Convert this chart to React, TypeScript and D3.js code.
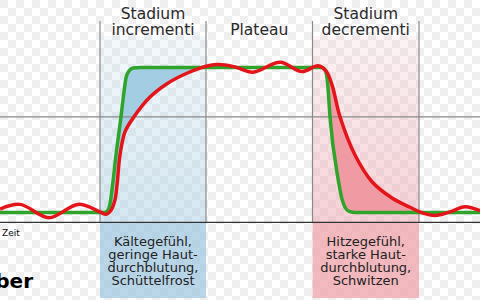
import React from "react";
import * as d3 from "d3";

const W = 480;
const H = 300;

// data (time units, °C)
const timeDomain = [0, 48];
const tempDomain = [37, 39.5];
const referenceTemp = 38.65;
const axisTemp = 36.83;
const phaseBounds = [10.0, 20.6, 31.25, 41.9];
const phaseTitles = [["Stadium", "incrementi"], ["Plateau"], ["Stadium", "decrementi"]];
const symptomsRise = ["Kältegefühl,", "geringe Haut-", "durchblutung,", "Schüttelfrost"];
const symptomsFall = ["Hitzegefühl,", "starke Haut-", "durchblutung,", "Schwitzen"];

const setPointTime = [0, 10.4, 10.75, 11.0, 11.2, 11.6, 12.1, 12.4, 12.6, 12.9, 13.3, 14.0, 32.2, 32.5, 32.75, 33.0, 33.8, 34.2, 34.5, 34.9, 35.6, 48];
const setPointTemp = [37.0, 37.0, 37.03, 37.15, 37.39, 37.99, 38.65, 39.08, 39.32, 39.44, 39.49, 39.5, 39.5, 39.46, 39.25, 38.65, 37.59, 37.23, 37.09, 37.02, 37.0, 37.0];

const bodyTime = [0, 2.0, 4.9, 7.8, 10.0, 10.6, 11.1, 11.5, 11.7, 12.0, 12.5, 13.4, 15.0, 16.7, 18.3, 20.0, 21.7, 23.5, 25.3, 28.0, 30.2, 31.8, 32.6, 33.2, 34.0, 35.5, 37.2, 39.2, 41.0, 42.3, 43.5, 45.0, 46.5, 48.0];
const bodyTemp = [37.06, 37.14, 36.91, 37.14, 37.01, 36.97, 37.04, 37.22, 37.47, 37.99, 38.39, 38.65, 38.99, 39.22, 39.37, 39.49, 39.55, 39.51, 39.42, 39.59, 39.43, 39.53, 39.44, 39.2, 38.65, 37.99, 37.53, 37.25, 37.09, 36.99, 36.95, 37.01, 37.1, 37.03];

const GREEN = "#2ea52a";
const RED = "#e3151b";
const FONT = "'DejaVu Sans', Verdana, sans-serif";

export default function App() {
  const x = d3.scaleLinear().domain(timeDomain).range([0, 480]);
  const y = d3.scaleLinear().domain(tempDomain).range([212.5, 67.5]);

  const setPts = setPointTime.map((t, i) => [t, setPointTemp[i]] as [number, number]);
  const bodyPts = bodyTime.map((t, i) => [t, bodyTemp[i]] as [number, number]);

  const greenLine = d3.line<[number, number]>().x((d) => x(d[0])).y((d) => y(d[1])).curve(d3.curveMonotoneX);
  const redLine = d3.line<[number, number]>().x((d) => x(d[0])).y((d) => y(d[1])).curve(d3.curveCatmullRom.alpha(0.5));
  const greenArea = d3.area<[number, number]>().x((d) => x(d[0])).y0(H + 10).y1((d) => y(d[1])).curve(d3.curveMonotoneX);
  const redArea = d3.area<[number, number]>().x((d) => x(d[0])).y0(H + 10).y1((d) => y(d[1])).curve(d3.curveCatmullRom.alpha(0.5));

  const axisY = y(axisTemp);
  const refY = y(referenceTemp);
  const topY = 21;
  const boxTop = 36;
  const boxBottom = 298;
  const px = phaseBounds.map((b) => x(b));

  const centers = [0, 1, 2].map((i) => (px[i] + px[i + 1]) / 2);

  return (
    <svg width={W} height={H} style={{ position: "absolute", left: 0, top: 0 }} fontFamily={FONT}>
      <defs>
        <pattern id="checker" width={16} height={16} patternUnits="userSpaceOnUse">
          <rect width={16} height={16} fill="#ffffff" />
          <rect width={8} height={8} fill="#efefef" />
          <rect x={8} y={8} width={8} height={8} fill="#efefef" />
        </pattern>
        <linearGradient id="blueGrad" x1="0" y1="0" x2="0" y2="1">
          <stop offset="0" stopColor="#a9cfe4" stopOpacity={0.12} />
          <stop offset="1" stopColor="#a9cfe4" stopOpacity={0.5} />
        </linearGradient>
        <linearGradient id="pinkGrad" x1="0" y1="0" x2="0" y2="1">
          <stop offset="0" stopColor="#eca3ae" stopOpacity={0.12} />
          <stop offset="1" stopColor="#eca3ae" stopOpacity={0.5} />
        </linearGradient>
        <mask id="riseMask" maskUnits="userSpaceOnUse" x={0} y={0} width={W} height={H}>
          <path d={greenArea(setPts) || ""} fill="white" />
          <path d={redArea(bodyPts) || ""} fill="black" />
        </mask>
        <mask id="fallMask" maskUnits="userSpaceOnUse" x={0} y={0} width={W} height={H}>
          <path d={redArea(bodyPts) || ""} fill="white" />
          <path d={greenArea(setPts) || ""} fill="black" />
        </mask>
      </defs>

      <rect width={W} height={H} fill="url(#checker)" />

      {/* phase boxes */}
      <rect x={px[0]} y={boxTop} width={px[1] - px[0]} height={axisY - boxTop} fill="url(#blueGrad)" />
      <rect x={px[0]} y={axisY} width={px[1] - px[0]} height={boxBottom - axisY} fill="#9cc6e0" fillOpacity={0.7} />
      <rect x={px[2]} y={boxTop} width={px[3] - px[2]} height={axisY - boxTop} fill="url(#pinkGrad)" />
      <rect x={px[2]} y={axisY} width={px[3] - px[2]} height={boxBottom - axisY} fill="#eea0a6" fillOpacity={0.72} />

      {/* fills between curves */}
      <rect x={px[0]} y={0} width={px[1] - px[0]} height={axisY} fill="#a3cde2" mask="url(#riseMask)" />
      <rect x={px[2]} y={0} width={px[3] - px[2]} height={axisY} fill="#f09aa3" mask="url(#fallMask)" />

      {/* grid lines */}
      <line x1={0} x2={W} y1={refY} y2={refY} stroke="#8a8a8a" strokeWidth={1.2} />
      {px.map((p, i) => (
        <line key={i} x1={p} x2={p} y1={topY} y2={axisY} stroke="#8a8a8a" strokeWidth={1.2} />
      ))}
      <line x1={0} x2={W} y1={axisY} y2={axisY} stroke="#333" strokeWidth={1.3} />

      {/* curves */}
      <path d={greenLine(setPts) || ""} fill="none" stroke={GREEN} strokeWidth={3.5} strokeLinejoin="round" />
      <path d={redLine(bodyPts) || ""} fill="none" stroke={RED} strokeWidth={3.5} strokeLinejoin="round" />

      {/* titles */}
      {phaseTitles.map((lines, i) => (
        <text key={i} x={centers[i]} textAnchor="middle" fontSize={15.5} fill="#2a2a2a">
          {lines.map((l, j) => (
            <tspan key={j} x={centers[i]} y={35 - (lines.length - 1 - j) * 16}>
              {l}
            </tspan>
          ))}
        </text>
      ))}

      {/* symptoms */}
      {[symptomsRise, null, symptomsFall].map((lines, i) =>
        lines ? (
          <text key={i} x={centers[i]} textAnchor="middle" fontSize={13} fill="#222">
            {lines.map((l, j) => (
              <tspan key={j} x={centers[i]} y={245.5 + j * 13.2}>
                {l}
              </tspan>
            ))}
          </text>
        ) : null
      )}

      <text x={2} y={235.5} fontSize={9} fill="#111">Zeit</text>
      <text x={33} y={288} fontSize={20} fontWeight="bold" textAnchor="end" fill="#000">Fieber</text>
    </svg>
  );
}
